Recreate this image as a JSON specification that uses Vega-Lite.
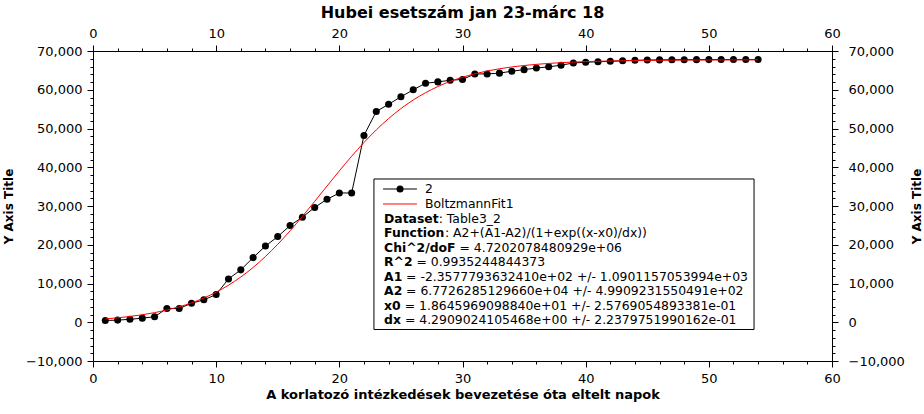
{
  "$schema": "https://vega.github.io/schema/vega-lite/v6.json",
  "width": 739,
  "height": 310,
  "autosize": {"type": "none"},
  "padding": {"left": 93, "top": 51, "right": 92, "bottom": 53},
  "background": "white",
  "config": {
    "font": "DejaVu Sans",
    "view": {"stroke": null},
    "axis": {
      "grid": false,
      "domainColor": "black",
      "tickColor": "black",
      "labelColor": "black",
      "titleColor": "black",
      "labelFont": "DejaVu Sans",
      "titleFont": "DejaVu Sans",
      "labelFontSize": 13,
      "titleFontSize": 13,
      "titleFontWeight": "bold",
      "labelOverlap": false,
      "labelFlush": false,
      "domainWidth": 1,
      "tickWidth": 1
    }
  },
  "title": {
    "text": "Hubei esetszám jan 23-márc 18",
    "font": "DejaVu Sans",
    "fontSize": 16,
    "fontWeight": "bold",
    "color": "black",
    "offset": 6
  },
  "datasets": {
    "cases": [
      {"day": 1, "cases": 444}, {"day": 2, "cases": 549}, {"day": 3, "cases": 761}, {"day": 4, "cases": 1058},
      {"day": 5, "cases": 1423}, {"day": 6, "cases": 3554}, {"day": 7, "cases": 3554}, {"day": 8, "cases": 4903},
      {"day": 9, "cases": 5806}, {"day": 10, "cases": 7153}, {"day": 11, "cases": 11177}, {"day": 12, "cases": 13522},
      {"day": 13, "cases": 16678}, {"day": 14, "cases": 19665}, {"day": 15, "cases": 22112}, {"day": 16, "cases": 24953},
      {"day": 17, "cases": 27100}, {"day": 18, "cases": 29631}, {"day": 19, "cases": 31728}, {"day": 20, "cases": 33366},
      {"day": 21, "cases": 33366}, {"day": 22, "cases": 48206}, {"day": 23, "cases": 54406}, {"day": 24, "cases": 56249},
      {"day": 25, "cases": 58182}, {"day": 26, "cases": 59989}, {"day": 27, "cases": 61682}, {"day": 28, "cases": 62031},
      {"day": 29, "cases": 62442}, {"day": 30, "cases": 62662}, {"day": 31, "cases": 64084}, {"day": 32, "cases": 64084},
      {"day": 33, "cases": 64287}, {"day": 34, "cases": 64786}, {"day": 35, "cases": 65187}, {"day": 36, "cases": 65596},
      {"day": 37, "cases": 65914}, {"day": 38, "cases": 66337}, {"day": 39, "cases": 66907}, {"day": 40, "cases": 67103},
      {"day": 41, "cases": 67217}, {"day": 42, "cases": 67332}, {"day": 43, "cases": 67466}, {"day": 44, "cases": 67592},
      {"day": 45, "cases": 67666}, {"day": 46, "cases": 67707}, {"day": 47, "cases": 67743}, {"day": 48, "cases": 67760},
      {"day": 49, "cases": 67773}, {"day": 50, "cases": 67781}, {"day": 51, "cases": 67786}, {"day": 52, "cases": 67790},
      {"day": 53, "cases": 67794}, {"day": 54, "cases": 67798}
    ],
    "fit": [
      {"day": 1, "fit": 858.7}, {"day": 2, "fit": 1140.2}, {"day": 3, "fit": 1492.1}, {"day": 4, "fit": 1931.0},
      {"day": 5, "fit": 2477.1}, {"day": 6, "fit": 3153.4}, {"day": 7, "fit": 3987.8}, {"day": 8, "fit": 5010.5},
      {"day": 9, "fit": 6256.1}, {"day": 10, "fit": 7759.0}, {"day": 11, "fit": 9555.4}, {"day": 12, "fit": 11674.3},
      {"day": 13, "fit": 14139.4}, {"day": 14, "fit": 16956.9}, {"day": 15, "fit": 20118.6}, {"day": 16, "fit": 23587.1},
      {"day": 17, "fit": 27306.4}, {"day": 18, "fit": 31192.1}, {"day": 19, "fit": 35146.2}, {"day": 20, "fit": 39062.7},
      {"day": 21, "fit": 42840.0}, {"day": 22, "fit": 46388.0}, {"day": 23, "fit": 49644.2}, {"day": 24, "fit": 52564.6},
      {"day": 25, "fit": 55132.9}, {"day": 26, "fit": 57350.9}, {"day": 27, "fit": 59238.4}, {"day": 28, "fit": 60823.7},
      {"day": 29, "fit": 62140.9}, {"day": 30, "fit": 63225.1}, {"day": 31, "fit": 64111.8}, {"day": 32, "fit": 64830.6},
      {"day": 33, "fit": 65412.3}, {"day": 34, "fit": 65880.1}, {"day": 35, "fit": 66255.6}, {"day": 36, "fit": 66556.0},
      {"day": 37, "fit": 66796.0}, {"day": 38, "fit": 66987.3}, {"day": 39, "fit": 67139.6}, {"day": 40, "fit": 67260.7},
      {"day": 42, "fit": 67433.4}, {"day": 44, "fit": 67542.2}, {"day": 46, "fit": 67610.7}, {"day": 48, "fit": 67653.6},
      {"day": 50, "fit": 67680.7}, {"day": 52, "fit": 67697.7}, {"day": 54, "fit": 67708.3}
    ],
    "legendBox": [
      {"x1": 22.81, "x2": 53.67, "y1": 36968, "y2": -1870}
    ],
    "legendSym": [
      {"series": "2", "x1": 23.55, "x2": 26.3, "ly": 34387},
      {"series": "BoltzmannFit1", "x1": 23.55, "x2": 26.3, "ly": 30517}
    ],
    "legendDot": [
      {"x": 24.93, "ly": 34387}
    ],
    "legendText": [
      {"b": "", "n": "2", "ly": 34387, "nx": 26.95},
      {"b": "", "n": "BoltzmannFit1", "ly": 30517, "nx": 26.95},
      {"b": "Dataset", "n": ": Table3_2", "ly": 26646, "nx": 28.07},
      {"b": "Function", "n": ": A2+(A1-A2)/(1+exp((x-x0)/dx))", "ly": 22904, "nx": 28.58},
      {"b": "Chi^2/doF", "n": "= 4.7202078480929e+06", "ly": 19162, "nx": 29.76},
      {"b": "R^2", "n": "= 0.9935244844373", "ly": 15420, "nx": 26.26},
      {"b": "A1", "n": "= -2.3577793632410e+02 +/- 1.0901157053994e+03", "ly": 11678, "nx": 25.42},
      {"b": "A2", "n": "= 6.7726285129660e+04 +/- 4.9909231550491e+02", "ly": 7937, "nx": 25.42},
      {"b": "x0", "n": "= 1.8645969098840e+01 +/- 2.5769054893381e-01", "ly": 4194, "nx": 25.31},
      {"b": "dx", "n": "= 4.2909024105468e+00 +/- 2.2379751990162e-01", "ly": 453, "nx": 25.33}
    ]
  },
  "layer": [
    {
      "data": {"name": "cases"},
      "mark": {"type": "line", "color": "black", "strokeWidth": 1, "point": {"filled": true, "size": 50, "color": "black"}},
      "encoding": {
        "x": {
          "field": "day", "type": "quantitative",
          "scale": {"domain": [0, 60], "nice": false, "zero": false},
          "axis": {
            "orient": "bottom",
            "title": "A korlatozó intézkedések bevezetése óta eltelt napok",
            "values": [0,2,4,6,8,10,12,14,16,18,20,22,24,26,28,30,32,34,36,38,40,42,44,46,48,50,52,54,56,58,60],
            "labelExpr": "datum.value % 10 === 0 ? format(datum.value, 'd') : ''",
            "tickSize": {"condition": {"test": "datum.value % 10 === 0", "value": 6}, "value": 3},
            "labelPadding": 5,
            "titlePadding": 3
          }
        },
        "y": {
          "field": "cases", "type": "quantitative",
          "scale": {"domain": [-10000, 70000], "nice": false, "zero": false},
          "axis": {
            "orient": "left",
            "title": "Y Axis Title",
            "titleFontSize": 12,
            "values": [-10000,-8000,-6000,-4000,-2000,0,2000,4000,6000,8000,10000,12000,14000,16000,18000,20000,22000,24000,26000,28000,30000,32000,34000,36000,38000,40000,42000,44000,46000,48000,50000,52000,54000,56000,58000,60000,62000,64000,66000,68000,70000],
            "labelExpr": "datum.value % 10000 === 0 ? format(datum.value, ',') : ''",
            "tickSize": {"condition": {"test": "datum.value % 10000 === 0", "value": 6}, "value": 3},
            "labelPadding": 5,
            "titlePadding": 10
          }
        }
      }
    },
    {
      "data": {"name": "fit"},
      "mark": {"type": "line", "color": "red", "strokeWidth": 1, "interpolate": "monotone"},
      "encoding": {
        "x": {
          "field": "day", "type": "quantitative",
          "scale": {"domain": [0, 60], "nice": false, "zero": false},
          "axis": {
            "orient": "top",
            "title": null,
            "values": [0,2,4,6,8,10,12,14,16,18,20,22,24,26,28,30,32,34,36,38,40,42,44,46,48,50,52,54,56,58,60],
            "labelExpr": "datum.value % 10 === 0 ? format(datum.value, 'd') : ''",
            "tickSize": {"condition": {"test": "datum.value % 10 === 0", "value": 6}, "value": 3},
            "labelPadding": 5
          }
        },
        "y": {
          "field": "fit", "type": "quantitative",
          "scale": {"domain": [-10000, 70000], "nice": false, "zero": false},
          "axis": {
            "orient": "right",
            "title": "Y Axis Title",
            "titleFontSize": 12,
            "titleAngle": 270,
            "titleBaseline": "top",
            "values": [-10000,-8000,-6000,-4000,-2000,0,2000,4000,6000,8000,10000,12000,14000,16000,18000,20000,22000,24000,26000,28000,30000,32000,34000,36000,38000,40000,42000,44000,46000,48000,50000,52000,54000,56000,58000,60000,62000,64000,66000,68000,70000],
            "labelExpr": "datum.value % 10000 === 0 ? format(datum.value, ',') : ''",
            "tickSize": {"condition": {"test": "datum.value % 10000 === 0", "value": 6}, "value": 3},
            "labelPadding": 10,
            "titlePadding": 7
          }
        }
      }
    },
    {
      "data": {"name": "legendBox"},
      "mark": {"type": "rect", "fill": "white", "stroke": "black", "strokeWidth": 1},
      "encoding": {
        "x": {"field": "x1", "type": "quantitative", "axis": null},
        "x2": {"field": "x2"},
        "y": {"field": "y1", "type": "quantitative", "axis": null},
        "y2": {"field": "y2"}
      }
    },
    {
      "data": {"name": "legendSym"},
      "mark": {"type": "rule", "strokeWidth": 1},
      "encoding": {
        "x": {"field": "x1", "type": "quantitative", "axis": null},
        "x2": {"field": "x2"},
        "y": {"field": "ly", "type": "quantitative", "axis": null},
        "color": {"field": "series", "type": "nominal", "scale": {"domain": ["2", "BoltzmannFit1"], "range": ["black", "red"]}, "legend": null}
      }
    },
    {
      "data": {"name": "legendDot"},
      "mark": {"type": "point", "filled": true, "size": 50, "color": "black", "opacity": 1},
      "encoding": {
        "x": {"field": "x", "type": "quantitative", "axis": null},
        "y": {"field": "ly", "type": "quantitative", "axis": null}
      }
    },
    {
      "data": {"name": "legendText"},
      "mark": {"type": "text", "align": "left", "baseline": "middle", "font": "DejaVu Sans", "fontSize": 12.4, "fontWeight": "bold", "color": "black"},
      "encoding": {
        "x": {"datum": 23.63, "type": "quantitative", "axis": null},
        "y": {"field": "ly", "type": "quantitative", "axis": null},
        "text": {"field": "b"}
      }
    },
    {
      "data": {"name": "legendText"},
      "mark": {"type": "text", "align": "left", "baseline": "middle", "font": "DejaVu Sans", "fontSize": 12.4, "color": "black"},
      "encoding": {
        "x": {"field": "nx", "type": "quantitative", "axis": null},
        "y": {"field": "ly", "type": "quantitative", "axis": null},
        "text": {"field": "n"}
      }
    }
  ],
  "resolve": {"axis": {"x": "independent", "y": "independent"}}
}
